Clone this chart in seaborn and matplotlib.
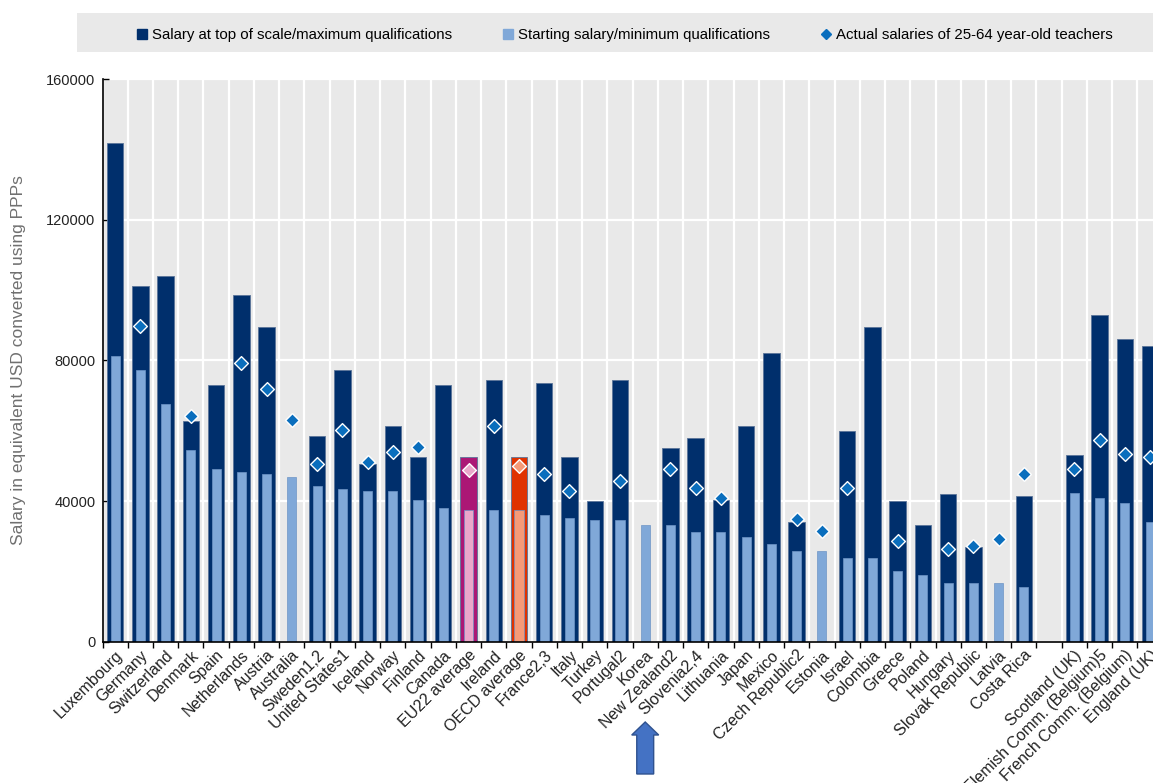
import numpy as np
import pandas as pd
import matplotlib.pyplot as plt
import matplotlib.transforms as mtransforms
from matplotlib.lines import Line2D
from matplotlib.patches import Rectangle, FancyArrow
import seaborn as sns

nan = np.nan

countries = ['Luxembourg', 'Germany', 'Switzerland', 'Denmark', 'Spain', 'Netherlands',
             'Austria', 'Australia', 'Sweden1,2', 'United States1', 'Iceland', 'Norway',
             'Finland', 'Canada', 'EU22 average', 'Ireland', 'OECD average', 'France2,3',
             'Italy', 'Turkey', 'Portugal2', 'Korea', 'New Zealand2', 'Slovenia2,4',
             'Lithuania', 'Japan', 'Mexico', 'Czech Republic2', 'Estonia', 'Israel',
             'Colombia', 'Greece', 'Poland', 'Hungary', 'Slovak Republic', 'Latvia',
             'Costa Rica', ' ', 'Scotland (UK)', 'Flemish Comm. (Belgium)5',
             'French Comm. (Belgium)', 'England (UK)']

# salary at top of scale / maximum qualifications
top_salary = [141800, 101200, 104000, 62800, 73000, 98600,
              89600, nan, 58600, 77200, 50500, 61400,
              52500, 73000, 52600, 74400, 52600, 73700,
              52500, 40200, 74400, nan, 55200, 58000,
              40300, 61400, 82000, 34000, nan, 60100,
              89600, 40200, 33300, 42100, 27100, nan,
              41500, nan, 53200, 93000, 86100, 84100]

# starting salary / minimum qualifications
start_salary = [81400, 77300, 67600, 54600, 49100, 48400,
                47700, 47000, 44300, 43600, 42900, 42900,
                40300, 38100, 37500, 37400, 37500, 36100,
                35300, 34700, 34700, 33300, 33300, 31300,
                31300, 29900, 27900, 25900, 25900, 23800,
                23800, 20300, 19000, 16900, 16900, 16900,
                15600, nan, 42300, 40800, 39500, 34000]

# actual salaries of 25-64 year-old teachers
actual_salary = [nan, 89700, nan, 64300, nan, 79400,
                 71800, 63000, 50600, 60300, 51200, 54000,
                 55400, nan, 48800, 61500, 50100, 47800,
                 43000, nan, 45800, nan, 49300, 43700,
                 41000, nan, nan, 34900, 31400, 43700,
                 nan, 28700, nan, 26500, 27300, 29400,
                 47800, nan, 49300, 57400, 53400, 52700]

df = pd.DataFrame({'country': countries, 'top': top_salary,
                   'start': start_salary, 'actual': actual_salary})

dark_pal = {c: '#002f6c' for c in countries}
light_pal = {c: '#80a8d8' for c in countries}
dot_pal = {c: '#0a6ebd' for c in countries}
dark_pal['EU22 average'] = '#ab1775'
light_pal['EU22 average'] = '#eaa7ca'
dot_pal['EU22 average'] = '#eaa7ca'
dark_pal['OECD average'] = '#e03200'
light_pal['OECD average'] = '#f59a78'
dot_pal['OECD average'] = '#f59a78'

plt.rcParams['font.family'] = ['Liberation Sans Narrow', 'Liberation Sans', 'DejaVu Sans']

fig = plt.figure(figsize=(11.53, 7.83), dpi=100)
ax = fig.add_axes([0.0889, 0.1801, 0.9195, 0.7190])
ax.set_facecolor('#e9e9e9')

sns.barplot(data=df, x='country', y='top', order=countries, hue='country',
            palette=dark_pal, width=0.65, saturation=1, errorbar=None,
            legend=False, edgecolor='#5a7499', linewidth=0.6, ax=ax, zorder=2)
sns.barplot(data=df, x='country', y='start', order=countries, hue='country',
            palette=light_pal, width=0.36, saturation=1, errorbar=None,
            legend=False, edgecolor='#6f95c6', linewidth=0.5, ax=ax, zorder=3)
sns.stripplot(data=df, x='country', y='actual', order=countries, hue='country',
              palette=dot_pal, marker='D', size=7, jitter=False,
              edgecolor='white', linewidth=1, legend=False, ax=ax, zorder=5)

ax.set_xlim(-0.5, len(countries) - 0.5)
ax.set_ylim(0, 160000)
yt = [0, 40000, 80000, 120000, 160000]
ax.set_yticks(yt)
ax.set_yticklabels([str(v) for v in yt], fontsize=10.5, color='#222222')

ax.set_xticks(range(len(countries)))
ax.set_xticklabels(countries, rotation=45, ha='right', rotation_mode='anchor',
                   fontsize=11.5, color='#222222')
ax.set_xticks(np.arange(-0.5, len(countries), 1), minor=True)

ax.set_axisbelow(True)
ax.yaxis.grid(True, color='white', lw=1.6)
ax.xaxis.grid(True, which='minor', color='white', lw=1.6)
ax.xaxis.grid(False, which='major')

ax.tick_params(axis='x', which='major', length=0, pad=4)
ax.tick_params(axis='x', which='minor', length=4, width=1, direction='out', color='black')
ax.tick_params(axis='y', direction='in', length=4, width=1, color='black', pad=5)

for s in ['top', 'right']:
    ax.spines[s].set_visible(False)
for s in ['left', 'bottom']:
    ax.spines[s].set_color('black')
    ax.spines[s].set_linewidth(1.2)
    ax.spines[s].set_zorder(6)

ax.set_xlabel('')
ax.set_ylabel('Salary in equivalent USD converted using PPPs', fontsize=12.5, color='#707070')
ax.yaxis.set_label_coords(-0.072, 0.5)

# legend band
fig.add_artist(Rectangle((0.0668, 0.9336), 0.9332, 0.0498, transform=fig.transFigure,
                         facecolor='#e9e9e9', edgecolor='none', zorder=0))
handles = [Line2D([], [], marker='s', ls='none', color='#002f6c', markersize=7),
           Line2D([], [], marker='s', ls='none', color='#80a8d8', markersize=7),
           Line2D([], [], marker='D', ls='none', color='#0a6ebd', markersize=5)]
labels = ['Salary at top of scale/maximum qualifications',
          'Starting salary/minimum qualifications',
          'Actual salaries of 25-64 year-old teachers']
fig.legend(handles, labels, loc='center', bbox_to_anchor=(0.5416, 0.9555), ncol=3,
           frameon=False, fontsize=10.8, handlelength=0.8, handletextpad=0.3,
           columnspacing=3.3)

# arrow under Korea
trans = mtransforms.blended_transform_factory(ax.transData, fig.transFigure)
k = countries.index('Korea')
arrow = FancyArrow(k, 0.0115, 0, 0.0664, width=0.67, head_width=1.07,
                   head_length=0.0166, length_includes_head=True,
                   transform=trans, facecolor='#4472c4', edgecolor='#2f528f',
                   lw=1, clip_on=False)
ax.add_artist(arrow)

fig.savefig('out.png', dpi=100)
